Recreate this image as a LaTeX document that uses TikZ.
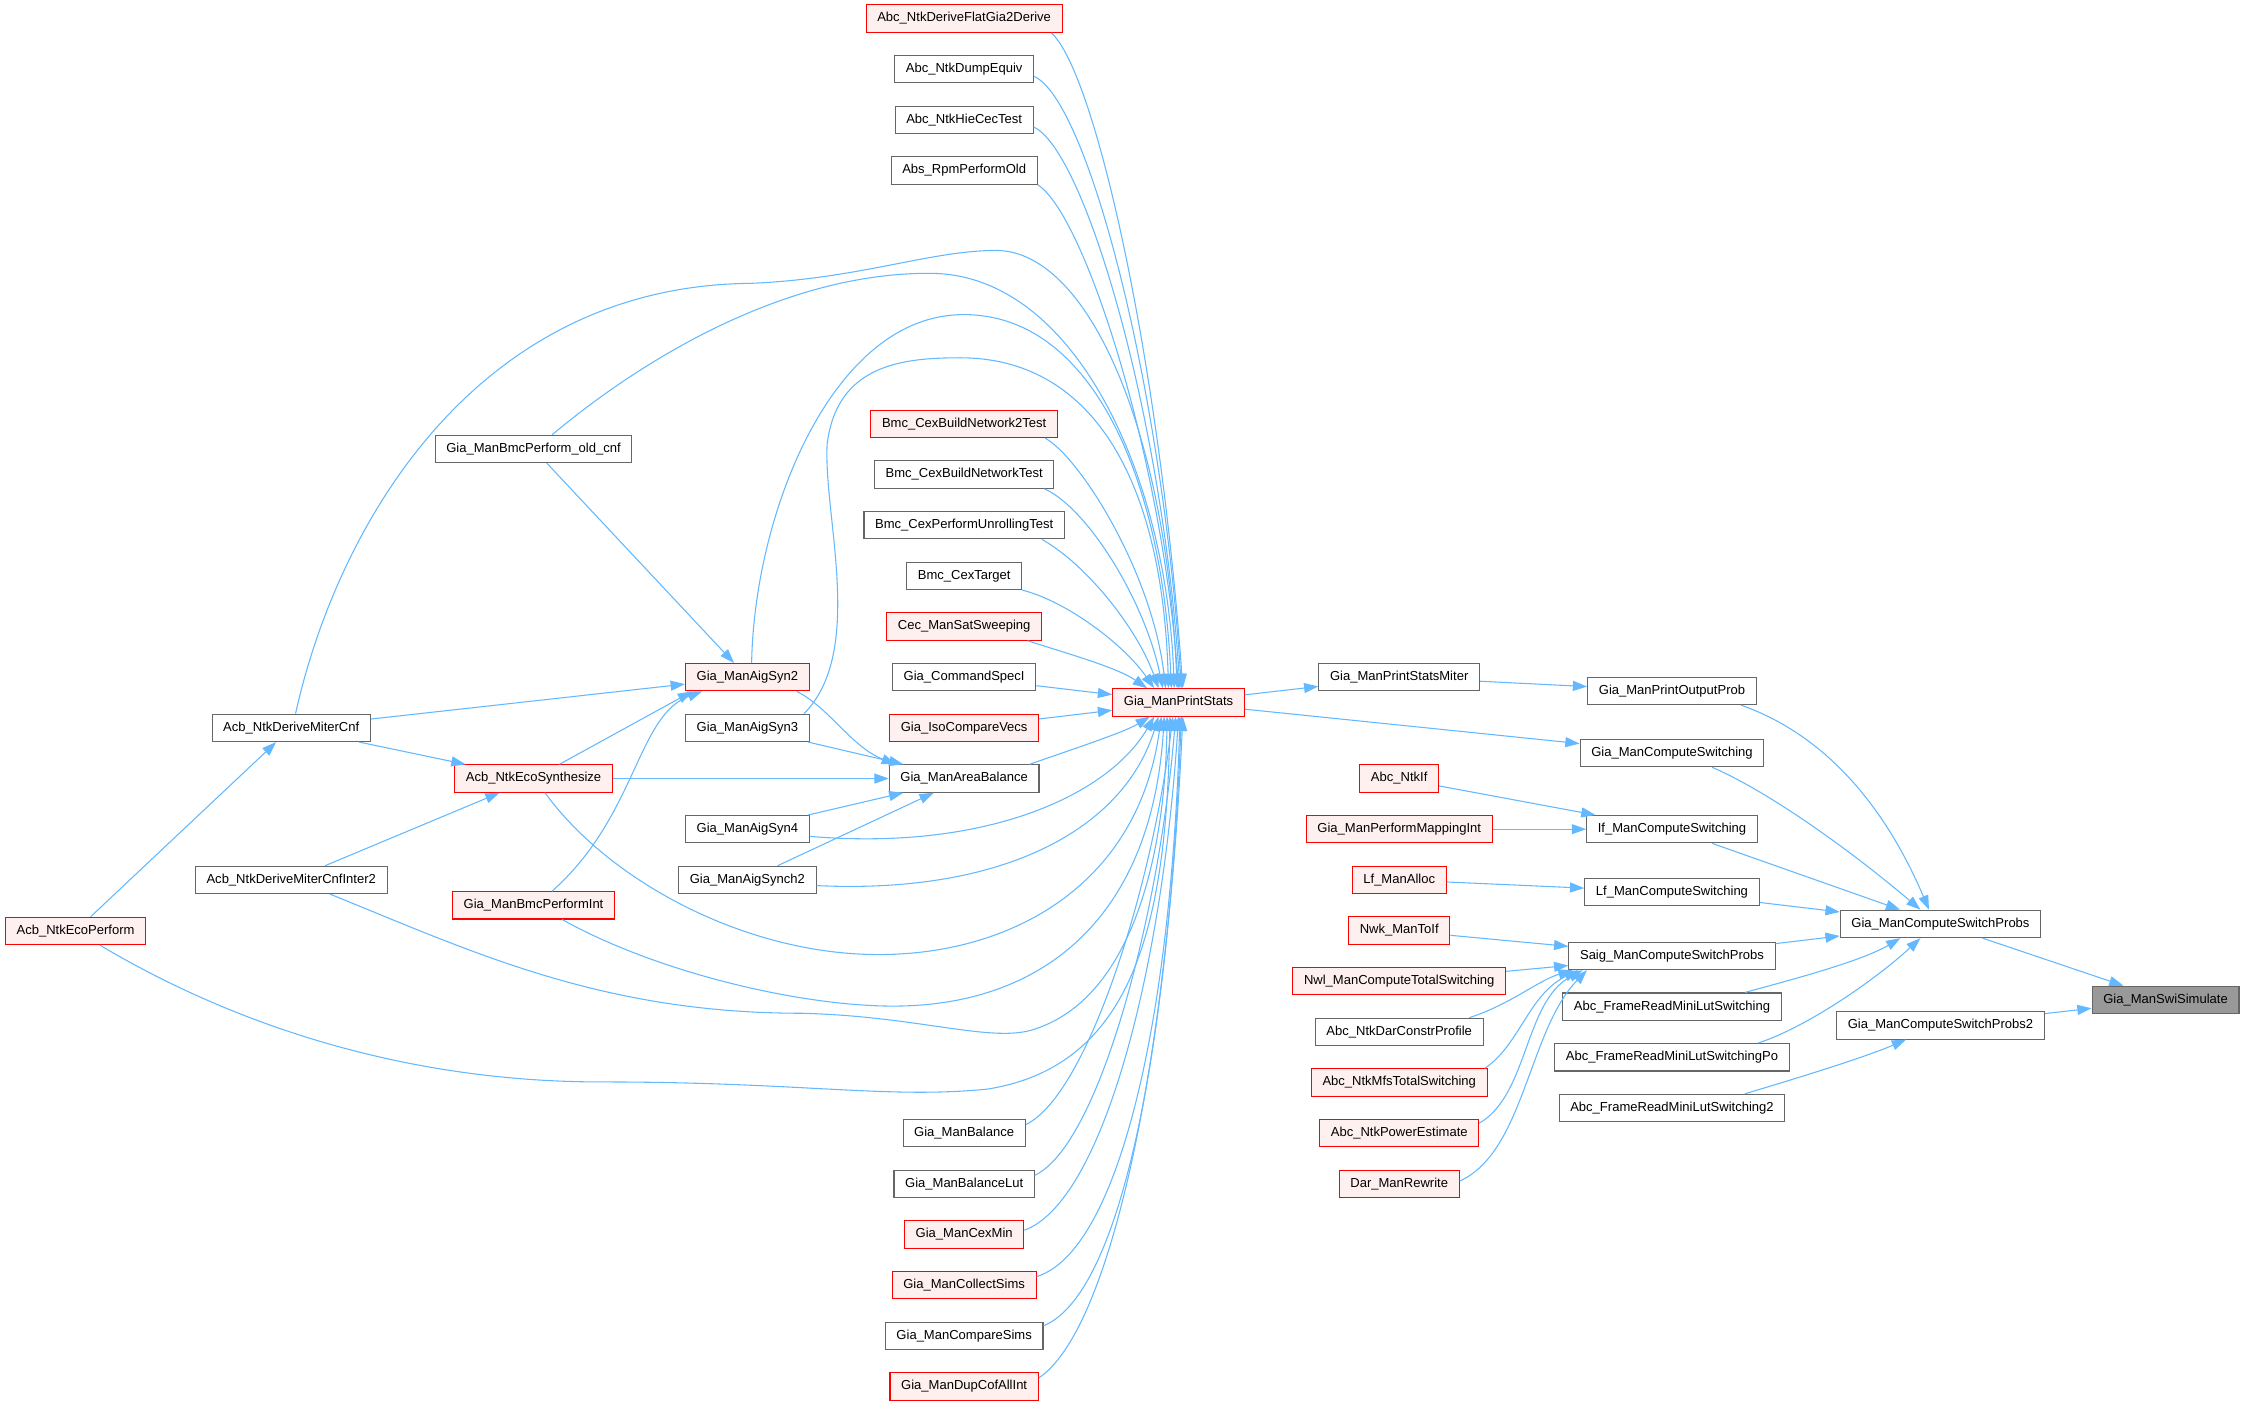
\documentclass[tikz,border=0pt]{standalone}
\usepackage{fontspec}
\setmainfont{Liberation Sans}
\usetikzlibrary{arrows.meta}
\definecolor{edgeblue}{HTML}{63B8FF}
\definecolor{boxgray}{HTML}{666666}
\definecolor{hotfill}{HTML}{FFF0F0}
\definecolor{selffill}{HTML}{999999}

\begin{document}
\begin{tikzpicture}[
  x=1pt, y=-1pt,
  fn/.style={
    draw=boxgray, fill=white, line width=0.75pt, rectangle,
    minimum height=19.1pt, inner xsep=7.8pt, inner ysep=0pt,
    text height=6.6pt, text depth=1.9pt,
    font=\fontsize{9.1}{11}\selectfont
  },
  fnred/.style={fn, draw=red, fill=hotfill},
  fnself/.style={fn, fill=selffill},
  arr/.style={-{Triangle[length=10pt, width=7pt]}, draw=edgeblue, line width=0.75pt},
]
\useasboundingbox (0,0) rectangle (1568,982);

\node[fnred] (flat)    at (673.7, 13)    {Abc\_NtkDeriveFlatGia2Derive};
\node[fn]    (dump)    at (673.7, 48.4)  {Abc\_NtkDumpEquiv};
\node[fn]    (hiecec)  at (673.7, 83.8)  {Abc\_NtkHieCecTest};
\node[fn]    (rpm)     at (673.7, 119.2) {Abs\_RpmPerformOld};
\node[fnred] (b2t)     at (673.7, 296.2) {Bmc\_CexBuildNetwork2Test};
\node[fn]    (bnt)     at (673.7, 331.6) {Bmc\_CexBuildNetworkTest};
\node[fn]    (unroll)  at (673.7, 367)   {Bmc\_CexPerformUnrollingTest};
\node[fn]    (cext)    at (673.7, 402.4) {Bmc\_CexTarget};
\node[fnred] (cec)     at (673.7, 437.8) {Cec\_ManSatSweeping};
\node[fn]    (spec)    at (673.7, 473.2) {Gia\_CommandSpecI};
\node[fnred] (iso)     at (673.7, 508.6) {Gia\_IsoCompareVecs};
\node[fn]    (areabal) at (673.7, 544)   {Gia\_ManAreaBalance};
\node[fn]    (bal)     at (673.7, 791.8) {Gia\_ManBalance};
\node[fn]    (ballut)  at (673.7, 827.2) {Gia\_ManBalanceLut};
\node[fnred] (cexmin)  at (673.7, 862.6) {Gia\_ManCexMin};
\node[fnred] (collect) at (673.7, 898)   {Gia\_ManCollectSims};
\node[fn]    (compare) at (673.7, 933.4) {Gia\_ManCompareSims};
\node[fnred] (dupcof)  at (673.7, 968.8) {Gia\_ManDupCofAllInt};

\node[fnred] (ecoperf)  at (52.8, 650.5)  {Acb\_NtkEcoPerform};
\node[fn]    (mitercnf) at (203.5, 508.6) {Acb\_NtkDeriveMiterCnf};
\node[fn]    (inter2)   at (203.5, 614.8) {Acb\_NtkDeriveMiterCnfInter2};
\node[fn]    (oldcnf)   at (372.8, 313.7) {Gia\_ManBmcPerform\_old\_cnf};
\node[fnred] (ecosyn)   at (372.8, 544)   {Acb\_NtkEcoSynthesize};
\node[fnred] (bmcint)   at (372.8, 632.6) {Gia\_ManBmcPerformInt};
\node[fnred] (syn2)     at (522.2, 473.2) {Gia\_ManAigSyn2};
\node[fn]    (syn3)     at (522.2, 508.6) {Gia\_ManAigSyn3};
\node[fn]    (syn4)     at (522.2, 579.4) {Gia\_ManAigSyn4};
\node[fn]    (synch2)   at (522.2, 614.8) {Gia\_ManAigSynch2};

\node[fnred] (ps)      at (823.5, 490.8) {Gia\_ManPrintStats};
\node[fn]    (psm)     at (977.7, 473.2) {Gia\_ManPrintStatsMiter};
\node[fnred] (ntkif)   at (977.7, 544)   {Abc\_NtkIf};
\node[fnred] (pmi)     at (977.7, 579.4) {Gia\_ManPerformMappingInt};
\node[fnred] (lfalloc) at (977.7, 614.8) {Lf\_ManAlloc};
\node[fnred] (nwk)     at (977.7, 650.2) {Nwk\_ManToIf};
\node[fnred] (nwl)     at (977.7, 685.6) {Nwl\_ManComputeTotalSwitching};
\node[fn]    (darcp)   at (977.7, 721)   {Abc\_NtkDarConstrProfile};
\node[fnred] (mfs)     at (977.7, 756.4) {Abc\_NtkMfsTotalSwitching};
\node[fnred] (power)   at (977.7, 791.8) {Abc\_NtkPowerEstimate};
\node[fnred] (darrw)   at (977.7, 827.2) {Dar\_ManRewrite};

\node[fn] (pop)   at (1168.3, 482.7) {Gia\_ManPrintOutputProb};
\node[fn] (gcs)   at (1168.3, 526.2) {Gia\_ManComputeSwitching};
\node[fn] (ifcs)  at (1168.3, 579.4) {If\_ManComputeSwitching};
\node[fn] (lfcs)  at (1168.3, 623.3) {Lf\_ManComputeSwitching};
\node[fn] (saig)  at (1168.3, 668)   {Saig\_ManComputeSwitchProbs};
\node[fn] (afr)   at (1168.3, 703.4) {Abc\_FrameReadMiniLutSwitching};
\node[fn] (afrpo) at (1168.3, 738.8) {Abc\_FrameReadMiniLutSwitchingPo};
\node[fn] (afr2)  at (1168.3, 774.2) {Abc\_FrameReadMiniLutSwitching2};
\node[fn]     (csp)  at (1355.9, 645.6) {Gia\_ManComputeSwitchProbs};
\node[fn]     (csp2) at (1355.9, 716.5) {Gia\_ManComputeSwitchProbs2};
\node[fnself] (swi)  at (1513.2, 698.7) {Gia\_ManSwiSimulate};

\draw[arr] ([xshift=-8pt]flat.south east) .. controls (765,50) and (810,250) .. ([xshift=3pt]ps.north);
\draw[arr] ([yshift=-5pt]dump.east) .. controls (760,70) and (812,270) .. ([xshift=2pt]ps.north);
\draw[arr] ([yshift=-5pt]hiecec.east) .. controls (758,105) and (812,290) .. ([xshift=1pt]ps.north);
\draw[arr] (rpm.south east) .. controls (758,150) and (812,320) .. (ps.north);
\draw[arr] ([xshift=3pt]mitercnf.north) .. controls (235,370) and (330,200) .. (524,198)
  .. controls (600,195) and (650,175) .. (696,175) .. controls (760,175) and (815,300) .. ([xshift=-1pt]ps.north);
\draw[arr] ([xshift=13pt]oldcnf.north) .. controls (450,250) and (550,190) .. (651,191)
  .. controls (750,192) and (815,330) .. ([xshift=-3pt]ps.north);
\draw[arr] ([xshift=3pt]syn2.north) .. controls (527,360) and (580,225) .. (668,220)
  .. controls (760,215) and (812,330) .. ([xshift=-5pt]ps.north);
\draw[arr] ([xshift=-4pt]syn3.north east) .. controls (605,455) and (575,360) .. (578,310)
  .. controls (585,255) and (630,250) .. (671,250) .. controls (760,250) and (812,330) .. ([xshift=-7pt]ps.north);
\draw[arr] ([xshift=-9pt]b2t.south east) .. controls (755,320) and (805,400) .. ([xshift=-9pt]ps.north);
\draw[arr] ([xshift=-7pt]bnt.south east) .. controls (760,355) and (800,420) .. ([xshift=-11pt]ps.north);
\draw[arr] ([xshift=-16pt]unroll.south east) .. controls (760,395) and (795,440) .. ([xshift=-14pt]ps.north);
\draw[arr] (cext.south east) .. controls (745,420) and (785,450) .. ([xshift=-17pt]ps.north);
\draw[arr] ([xshift=-10pt]cec.south east) .. controls (740,455) and (780,466) .. ([xshift=-22pt]ps.north);
\draw[arr] (spec) -- (ps);
\draw[arr] (iso) -- (ps);
\draw[arr] ([xshift=-7pt]areabal.north east) .. controls (745,525) and (785,512) .. ([xshift=-20pt]ps.south);
\draw[arr] ([yshift=-5pt]syn4.east) .. controls (690,595) and (775,555) .. ([xshift=-17pt]ps.south);
\draw[arr] ([yshift=-4pt]synch2.east) .. controls (700,625) and (785,580) .. ([xshift=-14pt]ps.south);
\draw[arr] ([xshift=8pt]ecosyn.south) .. controls (425,615) and (520,667) .. (614,667)
  .. controls (705,667) and (795,620) .. ([xshift=-12pt]ps.south);
\draw[arr] ([xshift=20pt]bmcint.south) .. controls (460,680) and (560,703) .. (624,703)
  .. controls (730,703) and (805,640) .. ([xshift=-10pt]ps.south);
\draw[arr] ([xshift=27pt]inter2.south) .. controls (330,665) and (420,708) .. (560,708)
  .. controls (640,710) and (690,728) .. (720,720) .. controls (790,700) and (814,600) .. ([xshift=-8pt]ps.south);
\draw[arr] ([xshift=17pt]ecoperf.south) .. controls (170,720) and (290,756) .. (420,756)
  .. controls (560,756) and (620,768) .. (690,761) .. controls (790,745) and (815,650) .. ([xshift=-6pt]ps.south);
\draw[arr] ([yshift=6pt]bal.east) .. controls (760,765) and (805,620) .. ([xshift=-4pt]ps.south);
\draw[arr] ([yshift=6pt]ballut.east) .. controls (768,800) and (810,640) .. ([xshift=-2pt]ps.south);
\draw[arr] ([yshift=3pt]cexmin.east) .. controls (770,840) and (812,680) .. (ps.south);
\draw[arr] ([yshift=6pt]collect.east) .. controls (780,875) and (818,720) .. ([xshift=1pt]ps.south);
\draw[arr] ([yshift=7pt]compare.east) .. controls (782,905) and (816,740) .. ([xshift=2pt]ps.south);
\draw[arr] ([yshift=6pt]dupcof.east) .. controls (775,930) and (815,750) .. ([xshift=3pt]ps.south);

\draw[arr] (ecoperf) -- (mitercnf);
\draw[arr] (mitercnf) -- (ecosyn);
\draw[arr] (inter2) -- (ecosyn);
\draw[arr] (mitercnf) -- (syn2);
\draw[arr] (oldcnf) -- (syn2);
\draw[arr] (ecosyn) -- ([xshift=5pt]syn2.south west);
\draw[arr] ([xshift=13pt]bmcint.north) .. controls (445,570) and (445,500) .. ([xshift=12pt]syn2.south west);
\draw[arr] (ecosyn) -- (areabal);
\draw[arr] ([xshift=-9pt]syn2.south east) .. controls (580,495) and (595,522) .. ([xshift=5pt]areabal.north west);
\draw[arr] (syn3) -- (areabal);
\draw[arr] (syn4) -- (areabal);
\draw[arr] (synch2) -- (areabal);

\draw[arr] (ps) -- (psm);
\draw[arr] (ps) -- (gcs);
\draw[arr] (psm) -- (pop);
\draw[arr] (ntkif) -- (ifcs);
\draw[arr] (pmi) -- (ifcs);
\draw[arr] (lfalloc) -- (lfcs);
\draw[arr] (nwk) -- (saig);
\draw[arr] (nwl) -- (saig);
\draw[arr] ([xshift=-10pt]darcp.north east) .. controls (1055,702) and (1075,685) .. ([xshift=3pt]saig.south west);
\draw[arr] ([xshift=-2pt]mfs.north east) .. controls (1062,730) and (1068,695) .. ([xshift=7pt]saig.south west);
\draw[arr] ([yshift=7pt]power.east) .. controls (1068,765) and (1065,700) .. ([xshift=10pt]saig.south west);
\draw[arr] ([yshift=2pt]darrw.east) .. controls (1065,805) and (1068,720) .. ([xshift=13pt]saig.south west);

\draw[arr] ([xshift=48pt]pop.south) .. controls (1280,515) and (1320,570) .. ([xshift=-8pt]csp.north);
\draw[arr] ([xshift=28pt]gcs.south) .. controls (1240,555) and (1300,600) .. ([xshift=-14pt]csp.north);
\draw[arr] (ifcs) -- (csp);
\draw[arr] (lfcs) -- (csp);
\draw[arr] (saig) -- (csp);
\draw[arr] ([xshift=51pt]afr.north) .. controls (1250,685) and (1300,672) .. ([xshift=-28pt]csp.south);
\draw[arr] ([xshift=60pt]afrpo.north) .. controls (1262,718) and (1310,685) .. ([xshift=-14pt]csp.south);
\draw[arr] ([xshift=51pt]afr2.north) .. controls (1250,755) and (1300,740) .. ([xshift=-24pt]csp2.south);
\draw[arr] (csp) -- (swi);
\draw[arr] (csp2) -- (swi);
\end{tikzpicture}
\end{document}
